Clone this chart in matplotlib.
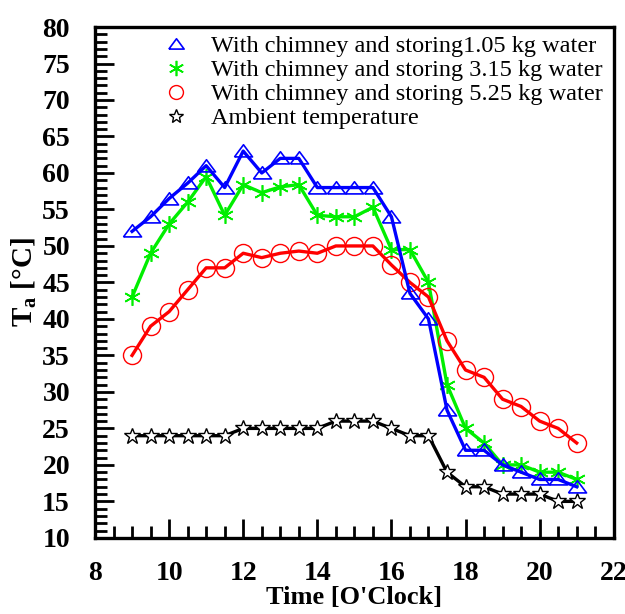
import matplotlib
matplotlib.use('Agg')
import matplotlib.pyplot as plt
from matplotlib.ticker import MultipleLocator

plt.rcParams['font.family'] = ['Liberation Serif', 'DejaVu Serif']
plt.rcParams['mathtext.fontset'] = 'custom'
plt.rcParams['mathtext.rm'] = 'Liberation Serif'
plt.rcParams['mathtext.bf'] = 'Liberation Serif:bold'

# hourly readings every half hour, 9:00 to 21:00
time = [9, 9.5, 10, 10.5, 11, 11.5, 12, 12.5, 13, 13.5, 14, 14.5, 15,
        15.5, 16, 16.5, 17, 17.5, 18, 18.5, 19, 19.5, 20, 20.5, 21]

t_105 = [52, 54, 56.5, 58.6, 61, 58, 63, 60, 62, 62, 58, 58, 58,
         58, 54, 43.5, 40, 27.5, 22, 22, 20, 19, 18, 18, 17]
t_315 = [43, 49, 53, 56, 59.5, 54.2, 58.4, 57.3, 58.1, 58.4, 54.2, 54, 54,
         55.3, 49.5, 49.5, 45, 31, 25, 23, 20, 20, 19, 19, 18]
t_525 = [35, 39, 41, 44, 47, 47, 49, 48.4, 49, 49.3, 49, 50, 50,
         50, 47.4, 45, 43, 37, 33, 32, 29, 28, 26, 25, 23]
t_amb = [24, 24, 24, 24, 24, 24, 25, 25, 25, 25, 25, 26, 26,
         26, 25, 24, 24, 19, 17, 17, 16, 16, 16, 15, 15]

labels = ['With chimney and storing1.05 kg water',
          'With chimney and storing 3.15 kg water',
          'With chimney and storing 5.25 kg water',
          'Ambient temperature']

# wide open triangle like the one Origin draws
tri = [(-1, -0.6), (1, -0.6), (0, 0.75), (-1, -0.6)]

fig = plt.figure(figsize=(6.25, 6.14), dpi=100)
ax = fig.add_axes([0.152, 0.124, 0.830, 0.832])

ax.plot(time, t_105, color='#0000ff', lw=2.4, zorder=3)
ax.plot(time, t_105, ls='none', marker=tri, ms=13, mfc='none', mec='#0000ff', mew=1.2, zorder=3)
ax.plot(time, t_315, color='#00ee00', lw=2.4, zorder=2)
ax.plot(time, t_315, ls='none', marker=(6, 2, 0), ms=12, mec='#00ee00', mew=1.2, zorder=2)
ax.plot(time, t_525, color='#ff0000', lw=2.4, zorder=2)
ax.plot(time, t_525, ls='none', marker='o', ms=13, mfc='none', mec='#ff0000', mew=1.0, zorder=2)
ax.plot(time, t_amb, color='black', lw=2.4, zorder=2)
ax.plot(time, t_amb, ls='none', marker='*', ms=12, mfc='white', mec='black', mew=1.0, zorder=2)

# legend shows only the symbols
h1, = ax.plot([], [], ls='none', marker=tri, ms=11, mfc='none', mec='#0000ff', mew=1.2)
h2, = ax.plot([], [], ls='none', marker=(6, 2, 0), ms=11, mec='#00ee00', mew=1.2)
h3, = ax.plot([], [], ls='none', marker='o', ms=10, mfc='none', mec='#ff0000', mew=1.0)
h4, = ax.plot([], [], ls='none', marker='*', ms=10, mfc='white', mec='black', mew=1.0)
ax.legend([h1, h2, h3, h4], labels, loc='upper left', bbox_to_anchor=(0.10, 1.012),
          frameon=False, fontsize=17.5, handlelength=1.2, handletextpad=0.85,
          labelspacing=0.08, borderaxespad=0.2)

ax.set_xlim(8, 22)
ax.set_ylim(10, 80)
ax.xaxis.set_major_locator(MultipleLocator(2))
ax.xaxis.set_minor_locator(MultipleLocator(0.5))
ax.yaxis.set_major_locator(MultipleLocator(5))
ax.yaxis.set_minor_locator(MultipleLocator(1))
ax.tick_params(which='major', direction='in', length=14, width=2, labelsize=20)
ax.tick_params(which='minor', direction='in', length=8.5, width=2)
ax.tick_params(axis='x', which='major', pad=17)
ax.tick_params(axis='y', which='major', pad=18)
for lbl in ax.get_xticklabels() + ax.get_yticklabels():
    lbl.set_fontweight('bold')
for sp in ax.spines.values():
    sp.set_linewidth(2.4)

ax.set_xlabel("Time [O'Clock]", fontsize=19, fontweight='bold', labelpad=0)
ax.set_ylabel(r'T$_\mathbf{a}$ [°C]', fontsize=21, fontweight='bold', labelpad=0)
ax.yaxis.set_label_coords(-0.108, 0.5)

fig.savefig('out.png', dpi=100)
